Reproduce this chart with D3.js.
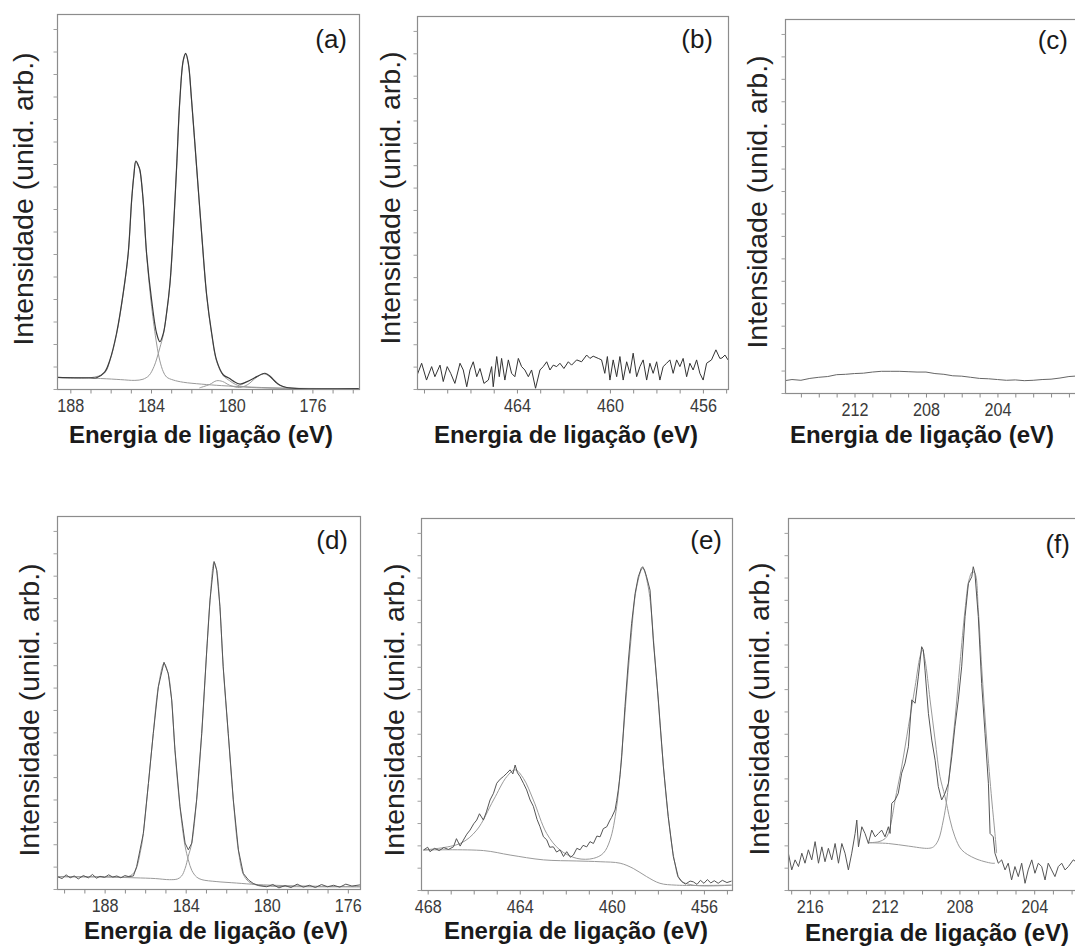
<!DOCTYPE html>
<html><head><meta charset="utf-8">
<script src="https://cdn.jsdelivr.net/npm/d3@7"></script>
<style>body{margin:0;background:#fff}svg{display:block;background:#fff}</style>
</head><body><svg id="chart" width="1075" height="949"></svg>
<script>
// ---------- tick labels ----------
const aTicks = [188,184,180,176];
const bTicks = [464,460,456];
const cTicks = [212,208,204];
const dTicks = [188,184,180,176];
const eTicks = [468,464,460,456];
const fTicks = [216,212,208,204];

// ---------- series: [binding energy (eV), intensity (arb. units 0-100)] ----------
const aData = [[188.66,3.1],[187.8,3.0],[187.0,3.0],[186.7,3.0],[186.3,4.5],[186.04,7.7],[185.71,14.8],[185.38,25.5],[185.13,36.2],[184.96,50.4],[184.85,57.0],[184.75,60.8],[184.62,59.5],[184.55,58.4],[184.39,50.4],[184.22,36.2],[183.97,23.7],[183.72,14.8],[183.56,12.6],[183.39,14.8],[183.23,20.2],[183.06,28.2],[182.90,41.5],[182.73,59.3],[182.57,77.1],[182.40,87.7],[182.28,89.5],[182.15,86.9],[181.99,77.1],[181.74,59.3],[181.49,41.5],[181.24,25.0],[180.99,14.8],[180.75,7.7],[180.42,3.8],[180.1,2.8],[179.92,2.1],[179.59,1.3],[179.26,1.9],[178.76,3.3],[178.5,4.0],[178.35,4.2],[178.1,3.4],[177.8,1.8],[177.6,1.0],[177.27,0.4],[176.61,0.1],[173.7,0.1]];
const aComp1 = [[188.66,3.1],[187.0,3.0],[186.3,4.3],[186.04,7.5],[185.71,14.5],[185.38,25.3],[185.13,36.0],[184.96,50.2],[184.85,57.0],[184.75,60.6],[184.62,59.3],[184.55,58.2],[184.39,50.2],[184.22,36.0],[183.97,22.0],[183.72,12.0],[183.56,7.5],[183.39,4.6],[183.23,3.2],[182.9,2.4],[182.4,1.8],[181.5,1.3],[180.5,0.9],[179.0,0.5],[177.0,0.2],[173.7,0.1]];
const aComp2 = [[188.66,3.1],[186.5,2.8],[185.5,2.5],[184.8,2.3],[184.4,2.6],[184.1,3.6],[183.85,6.0],[183.72,8.0],[183.56,11.0],[183.39,14.5],[183.23,20.0],[183.06,28.0],[182.90,41.3],[182.73,59.1],[182.57,77.0],[182.40,87.5],[182.28,89.3],[182.15,86.7],[181.99,77.0],[181.74,59.1],[181.49,41.3],[181.24,24.8],[180.99,14.5],[180.75,7.4],[180.42,3.6],[180.1,2.2],[179.8,1.2],[179.4,0.6],[178.5,0.3],[176.0,0.1],[173.7,0.1]];
const aComp3 = [[181.6,0.3],[181.1,1.2],[180.75,2.2],[180.45,2.0],[180.1,1.0],[179.6,0.4],[179.2,1.2],[178.8,3.0],[178.5,3.9],[178.35,4.0],[178.1,3.2],[177.8,1.6],[177.4,0.5],[176.6,0.1]];

const bData = [[468.29,3.8],[468.10,6.9],[467.89,2.4],[467.67,6.0],[467.53,3.3],[467.31,6.4],[467.17,2.0],[467.00,6.0],[466.85,4.2],[466.67,1.5],[466.45,6.9],[466.31,5.1],[466.16,0.6],[466.02,5.1],[465.88,7.3],[465.73,3.3],[465.59,5.5],[465.42,1.5],[465.23,2.4],[465.09,6.0],[465.02,0.6],[464.87,8.7],[464.76,3.3],[464.66,8.2],[464.52,2.4],[464.37,7.8],[464.23,4.2],[464.09,3.3],[463.94,8.2],[463.80,6.0],[463.66,5.1],[463.51,3.3],[463.37,5.1],[463.20,0.2],[463.01,5.1],[462.87,6.0],[462.72,7.3],[462.58,5.1],[462.44,6.4],[462.29,6.0],[462.15,6.9],[461.98,5.5],[461.79,7.3],[461.65,6.4],[461.43,7.8],[461.22,7.3],[461.00,9.1],[460.86,8.2],[460.72,8.8],[460.50,8.2],[460.36,7.8],[460.22,4.2],[460.11,8.7],[460.00,2.4],[459.86,7.8],[459.71,3.3],[459.57,8.7],[459.43,2.4],[459.28,7.3],[459.14,4.2],[459.00,9.6],[458.85,3.3],[458.71,6.0],[458.57,7.8],[458.42,2.4],[458.28,6.9],[458.14,4.2],[457.99,7.3],[457.85,2.4],[457.71,6.0],[457.56,6.9],[457.42,7.8],[457.28,4.2],[457.13,7.8],[456.99,6.0],[456.85,8.2],[456.70,3.3],[456.56,6.9],[456.42,5.1],[456.27,7.8],[456.13,4.2],[455.99,2.4],[455.84,6.9],[455.63,7.8],[455.44,10.5],[455.27,8.2],[455.18,8.3],[455.05,9.1],[454.92,7.8]];

const cData = [[215.9,3.3],[215.5,3.6],[215.0,3.4],[214.5,3.9],[214.0,4.2],[213.5,4.4],[213.0,4.9],[212.5,5.0],[212.0,5.2],[211.5,5.3],[211.0,5.6],[210.5,5.8],[210.0,5.8],[209.5,5.8],[209.0,5.7],[208.5,5.6],[208.0,5.6],[207.5,5.2],[207.0,5.0],[206.5,4.6],[206.0,4.5],[205.5,4.2],[205.0,3.9],[204.5,3.8],[204.0,3.6],[203.5,3.4],[203.0,3.5],[202.5,3.3],[202.0,3.4],[201.5,3.6],[201.0,3.7],[200.5,4.0],[200.0,4.4],[199.4,4.6]];

const dData = [[190.33,3.3],[190.1,2.8],[189.9,3.8],[189.7,3.0],[189.5,3.5],[189.3,2.7],[189.05,3.6],[188.8,3.0],[188.6,3.9],[188.4,2.9],[188.23,3.4],[188.0,3.1],[187.8,3.8],[187.6,3.2],[187.4,3.5],[187.2,3.0],[187.0,3.6],[186.8,3.3],[186.58,3.5],[186.42,6.0],[186.09,14.9],[185.84,28.3],[185.60,41.7],[185.35,54.2],[185.07,60.8],[184.86,57.8],[184.69,50.7],[184.53,37.3],[184.28,22.1],[184.03,12.3],[183.87,10.5],[183.70,12.3],[183.46,23.9],[183.21,41.7],[182.96,64.1],[182.80,77.5],[182.60,87.8],[182.47,85.5],[182.31,75.7],[182.15,59.6],[181.90,41.7],[181.65,23.9],[181.40,10.5],[181.16,4.2],[180.9,2.4],[180.67,1.5],[180.4,0.9],[180.0,0.6],[179.7,1.2],[179.4,0.3],[179.1,0.9],[178.8,0.4],[178.5,1.3],[178.2,0.5],[177.9,1.0],[177.6,0.4],[177.3,1.2],[177.0,0.6],[176.7,1.0],[176.4,0.5],[176.1,1.3],[175.8,0.8],[175.4,1.1]];
const dComp1 = [[190.33,3.3],[188.0,3.3],[186.8,3.4],[186.5,4.8],[186.2,11.0],[186.09,14.9],[185.84,28.3],[185.60,41.7],[185.35,54.2],[185.07,60.5],[184.86,57.6],[184.69,50.5],[184.53,37.1],[184.28,21.8],[184.03,11.5],[183.87,7.8],[183.7,5.0],[183.46,3.2],[183.2,2.5],[182.5,2.0],[181.5,1.6],[180.5,1.2],[179.0,0.9],[177.0,0.7],[175.4,0.6]];
const dComp2 = [[190.33,3.3],[188.0,3.2],[186.5,3.0],[185.5,2.8],[184.8,2.5],[184.4,2.7],[184.2,3.5],[184.03,5.5],[183.87,8.8],[183.70,12.3],[183.46,23.9],[183.21,41.5],[182.96,64.0],[182.80,77.4],[182.60,87.6],[182.47,85.4],[182.31,75.5],[182.15,59.5],[181.90,41.5],[181.65,23.7],[181.40,10.3],[181.16,4.0],[180.9,2.0],[180.6,1.2],[180.0,0.8],[178.0,0.6],[175.4,0.6]];

const eData = [[468.18,10.75],[468.0,11.5],[467.9,10.3],[467.7,11.2],[467.5,10.6],[467.3,11.4],[467.1,10.9],[466.88,11.6],[466.75,13.8],[466.59,11.8],[466.45,13.4],[466.30,15.0],[466.16,16.1],[466.0,17.8],[465.87,18.8],[465.75,20.5],[465.58,18.8],[465.45,21.0],[465.29,24.2],[465.14,26.0],[465.00,28.7],[464.85,29.8],[464.71,30.5],[464.56,31.4],[464.42,32.3],[464.30,31.2],[464.20,33.6],[464.10,31.5],[463.99,30.5],[463.84,28.7],[463.70,26.9],[463.55,24.2],[463.41,22.5],[463.25,19.0],[463.12,17.0],[462.97,14.3],[462.83,13.5],[462.7,11.5],[462.54,11.6],[462.4,10.2],[462.25,10.8],[462.1,9.0],[461.96,10.3],[461.8,8.8],[461.67,9.4],[461.52,11.2],[461.38,10.8],[461.25,12.0],[461.09,11.6],[460.95,13.0],[460.80,12.5],[460.65,14.5],[460.51,14.3],[460.37,16.5],[460.22,17.0],[460.08,18.8],[460.01,19.5],[459.86,21.5],[459.79,24.0],[459.72,26.9],[459.64,31.0],[459.57,35.8],[459.43,49.3],[459.28,61.8],[459.14,71.7],[458.99,79.7],[458.85,84.2],[458.72,86.5],[458.66,86.9],[458.58,86.0],[458.49,84.2],[458.34,80.6],[458.20,67.2],[457.98,51.1],[457.76,33.1],[457.55,19.7],[457.33,9.0],[457.12,3.6],[456.95,2.2],[456.8,1.6],[456.6,2.4],[456.46,2.2],[456.3,1.5],[456.15,2.6],[456.0,1.8],[455.85,2.8],[455.7,1.9],[455.55,2.5],[455.38,1.8],[455.2,2.6],[455.0,2.0],[454.8,2.4]];
const eFit = [[468.18,10.75],[466.59,12.5],[465.87,16.1],[465.14,24.2],[464.56,30.5],[464.20,32.3],[463.84,30.0],[463.41,24.2],[462.83,15.2],[462.25,10.75],[461.52,8.5],[460.80,8.5],[460.37,9.9],[460.08,13.4],[459.79,22.4],[459.50,42.1],[459.21,64.5],[458.92,81.5],[458.66,86.5],[458.42,81.5],[458.12,61.8],[457.83,38.5],[457.55,19.7],[457.26,7.2],[457.04,2.7],[456.46,1.3],[454.8,1.3]];
const eBg = [[468.18,10.75],[465.58,10.6],[464.42,9.4],[462.97,8.1],[461.52,7.8],[460.51,7.6],[459.64,7.2],[459.07,5.8],[458.49,3.6],[457.91,1.8],[457.19,1.3],[454.8,1.3]];

const fData = [[217.15,9.9],[216.97,5.4],[216.79,8.1],[216.61,6.3],[216.43,9.9],[216.26,7.2],[216.08,10.8],[215.90,8.1],[215.72,13.0],[215.54,7.2],[215.36,11.6],[215.19,7.6],[215.01,11.2],[214.83,8.1],[214.65,12.5],[214.47,7.2],[214.29,12.5],[214.12,9.9],[213.94,5.4],[213.76,9.9],[213.58,15.2],[213.49,18.8],[213.40,11.6],[213.22,17.0],[213.05,15.2],[212.87,12.5],[212.69,16.1],[212.51,14.3],[212.33,15.2],[212.16,16.1],[211.98,14.3],[211.80,17.0],[211.71,15.2],[211.62,23.3],[211.44,24.2],[211.27,26.0],[211.09,31.4],[210.91,34.1],[210.73,38.5],[210.55,51.1],[210.37,50.2],[210.20,57.3],[210.02,65.4],[209.93,64.5],[209.84,59.1],[209.66,47.5],[209.48,40.3],[209.30,34.9],[209.13,27.8],[208.95,24.2],[208.77,26.0],[208.59,28.7],[208.41,35.8],[208.24,43.9],[208.06,51.1],[207.88,60.0],[207.70,73.5],[207.52,82.4],[207.34,84.2],[207.26,86.9],[207.17,85.1],[206.99,73.5],[206.81,55.5],[206.63,42.1],[206.45,28.7],[206.36,15.2],[206.19,14.3],[206.10,9.9],[205.92,7.2],[205.74,8.1],[205.56,5.4],[205.39,7.2],[205.21,2.7],[205.03,6.3],[204.85,3.6],[204.67,7.2],[204.49,1.8],[204.32,5.4],[204.13,8.1],[203.96,4.5],[203.78,7.2],[203.60,6.3],[203.42,2.7],[203.25,7.2],[203.07,5.4],[202.89,3.6],[202.71,6.3],[202.53,7.2],[202.35,5.4],[202.17,6.3],[201.91,8.1],[201.6,7.0]];
const fComp1 = [[212.87,12.7],[212.3,13.0],[211.98,13.8],[211.80,15.2],[211.62,19.0],[211.44,24.2],[211.09,33.1],[210.73,43.9],[210.37,54.7],[210.11,62.7],[209.98,64.5],[209.84,61.8],[209.57,51.1],[209.30,40.3],[209.04,30.5],[208.77,25.1],[208.50,18.8],[208.24,14.3],[207.88,10.8],[207.17,8.5],[206.27,7.2],[206.10,7.2]];
const fComp2 = [[212.87,12.7],[211.80,12.5],[210.73,11.8],[209.66,11.2],[209.39,11.6],[209.13,13.4],[208.86,18.8],[208.68,24.2],[208.50,33.1],[208.24,45.7],[207.97,60.9],[207.70,75.3],[207.49,83.3],[207.31,85.5],[207.17,85.1],[206.99,75.3],[206.81,60.0],[206.54,40.3],[206.27,24.2],[206.10,15.2],[206.01,9.9]];

// ---------- layout ----------
const FONT = '"Liberation Sans", Arial, sans-serif';
const FIT = '#9a9a9a';
const panels = [
  {key:'a', label:'(a)', box:{l:57,t:14,r:359,b:389}, domain:[188.66,173.69], ticks:aTicks,
   series:[[aComp1,FIT,1,true],[aComp2,FIT,1,true],[aComp3,FIT,1,true],[aData,'#3c3c3c',1.2,true]],
   ylab:[33,199], xlab:[201,443], plab:[347,48]},
  {key:'b', label:'(b)', box:{l:417,t:16,r:728,b:389}, domain:[468.30,454.92], ticks:bTicks,
   series:[[bData,'#333',1,false]], ylab:[400,198], xlab:[566,443], plab:[713,48]},
  {key:'c', label:'(c)', box:{l:785,t:19,r:1080,b:393}, domain:[215.89,199.38], ticks:cTicks,
   series:[[cData,'#666',1,false]], ylab:[767,202], xlab:[922,443], plab:[1068,49]},
  {key:'d', label:'(d)', box:{l:57,t:516,r:360,b:889}, domain:[190.35,175.40], ticks:dTicks,
   series:[[dComp1,FIT,1,true],[dComp2,FIT,1,true],[dData,'#555',1,false]], ylab:[39,710], xlab:[216,939], plab:[348,549]},
  {key:'e', label:'(e)', box:{l:421,t:518,r:732,b:890}, domain:[468.29,454.78], ticks:eTicks,
   series:[[eBg,FIT,1,true],[eFit,FIT,1,true],[eData,'#555',1,false]], ylab:[404,710], xlab:[576,939], plab:[722,549]},
  {key:'f', label:'(f)', box:{l:788,t:518,r:1080,b:890}, domain:[217.17,201.55], ticks:fTicks,
   series:[[fComp1,FIT,1,true],[fComp2,FIT,1,true],[fData,'#555',1,false]], ylab:[769,709], xlab:[937,941], plab:[1070,553]}
];

const svg = d3.select('#chart');
const defs = svg.append('defs');

panels.forEach(p => {
  const B = p.box;
  const x = d3.scaleLinear().domain(p.domain).range([B.l, B.r]);
  const y = d3.scaleLinear().domain([0, 100]).range([B.b, B.t]);
  const g = svg.append('g');

  defs.append('clipPath').attr('id', 'clip-' + p.key)
    .append('rect').attr('x', B.l).attr('y', B.t).attr('width', B.r - B.l).attr('height', B.b - B.t);

  const plot = g.append('g').attr('clip-path', `url(#clip-${p.key})`);
  p.series.forEach(([pts, col, w, smooth]) => {
    const line = d3.line().x(d => x(d[0])).y(d => y(d[1]))
      .curve(smooth ? d3.curveCatmullRom.alpha(0.5) : d3.curveLinear);
    plot.append('path').datum(pts).attr('d', line)
      .attr('fill', 'none').attr('stroke', col).attr('stroke-width', w).attr('stroke-linejoin', 'round');
  });

  // frame
  g.append('rect').attr('x', B.l + 0.5).attr('y', B.t + 0.5)
    .attr('width', B.r - B.l).attr('height', B.b - B.t)
    .attr('fill', 'none').attr('stroke', '#8c8c8c').attr('stroke-width', 1.2);

  // x axis (1 eV minor ticks, labels at the given values)
  const lo = Math.ceil(Math.min(...p.domain)), hi = Math.floor(Math.max(...p.domain));
  const xa = d3.axisBottom(x).tickValues(d3.range(lo, hi + 1)).tickSize(4).tickPadding(6)
    .tickFormat(d => p.ticks.includes(d) ? String(d) : '');
  const xg = g.append('g').attr('transform', `translate(0,${B.b + 0.5})`).call(xa);
  xg.select('.domain').remove();
  xg.selectAll('line').attr('stroke', '#8c8c8c');
  xg.selectAll('text').attr('font-family', FONT).attr('font-size', 18).attr('fill', '#3a3a3a')
    .filter(d => p.ticks.includes(d)).attr('textLength', 27).attr('lengthAdjust', 'spacingAndGlyphs');

  // y axis (unlabelled ticks)
  const ya = d3.axisLeft(y).tickValues(d3.range(0, 101, 6)).tickSize(4).tickFormat('');
  const yg = g.append('g').attr('transform', `translate(${B.l + 0.5},0)`).call(ya);
  yg.select('.domain').remove();
  yg.selectAll('line').attr('stroke', '#a0a0a0');

  // titles
  g.append('text').attr('transform', `translate(${p.ylab[0]},${p.ylab[1]}) rotate(-90)`)
    .attr('text-anchor', 'middle').attr('font-family', FONT).attr('font-size', 28.5).attr('fill', '#222')
    .text('Intensidade (unid. arb.)');
  g.append('text').attr('x', p.xlab[0]).attr('y', p.xlab[1])
    .attr('text-anchor', 'middle').attr('font-family', FONT).attr('font-size', 24).attr('font-weight', 'bold').attr('fill', '#1a1a1a')
    .text('Energia de ligação (eV)');
  g.append('text').attr('x', p.plab[0]).attr('y', p.plab[1])
    .attr('text-anchor', 'end').attr('font-family', FONT).attr('font-size', 26).attr('fill', '#1a1a1a')
    .text(p.label);
});
</script>
</body></html>
